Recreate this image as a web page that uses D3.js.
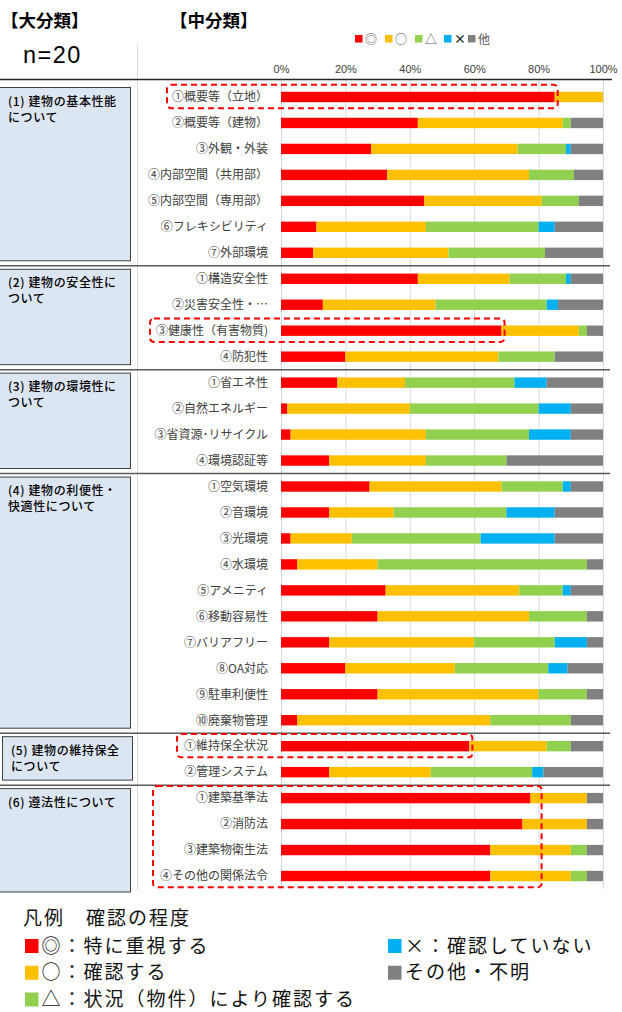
<!DOCTYPE html>
<html>
<head>
<meta charset="utf-8">
<script src="https://cdn.jsdelivr.net/npm/d3@7"></script>
<style>
  body { margin: 0; background: #fff; }
  text { font-family: "Noto Sans CJK JP", "Noto Sans", sans-serif; }
</style>
</head>
<body>
<div id="chart"></div>
<script>
const categories = [
  "①概要等（立地）", "②概要等（建物）", "③外観・外装", "④内部空間（共用部）", "⑤内部空間（専用部）", "⑥フレキシビリティ", "⑦外部環境",
  "①構造安全性", "②災害安全性・…", "③健康性（有害物質)", "④防犯性",
  "①省エネ性", "②自然エネルギー", "③省資源･リサイクル", "④環境認証等",
  "①空気環境", "②音環境", "③光環境", "④水環境", "⑤アメニティ", "⑥移動容易性", "⑦バリアフリー", "⑧OA対応", "⑨駐車利便性", "⑩廃棄物管理",
  "①維持保全状況", "②管理システム",
  "①建築基準法", "②消防法", "③建築物衛生法", "④その他の関係法令"
];

const sectionLine1 = ["(1) 建物の基本性能", "(2) 建物の安全性に", "(3) 建物の環境性に", "(4) 建物の利便性・", "(5) 建物の維持保全", "(6) 遵法性について"];
const sectionLine2 = ["について", "ついて", "ついて", "快適性について", "について", ""];
const sectionSizes = [7, 4, 4, 10, 2, 4];

const seriesKeys = ["◎", "○", "△", "×", "他"];
const seriesColors = ["#FF0000", "#FFC000", "#92D050", "#00B0F0", "#808080"];

const red    = [85, 42.5, 28, 33, 44.5, 11, 10,  42.5, 13, 68.5, 20,  17.5, 2, 3, 15,  27.5, 15, 3, 5, 32.5, 30, 15, 20, 30, 5,  58.5, 15,  77.5, 75, 65, 65];
const yellow = [15, 45, 45.5, 44, 36.5, 34, 42,  28.5, 35, 24, 47.5,  21, 38, 42, 30,  41, 20, 19, 25, 41.5, 47, 45, 34, 50, 60,  24, 31.5,  17.5, 20, 25, 25];
const green  = [0, 2.5, 15, 14, 11.5, 35, 30,  17.5, 34.5, 2.5, 17.5,  34, 40, 32, 25,  19, 35, 40, 65, 13.5, 18, 25, 29, 15, 25,  7.5, 31.5,  0, 0, 5, 5];
const blue   = [0, 0, 1.5, 0, 0, 5, 0,  1.5, 3.5, 0, 0,  10, 10, 13, 0,  2.5, 15, 23, 0, 2.5, 0, 10, 6, 0, 0,  0, 3.5,  0, 0, 0, 0];
const gray   = [0, 10, 10, 9, 7.5, 15, 18,  10, 14, 5, 15,  17.5, 10, 10, 30,  10, 15, 15, 5, 10, 5, 5, 11, 5, 10,  10, 18.5,  5, 5, 5, 5];

const ticks = [0, 20, 40, 60, 80, 100];

const legendLeft = ["◎：特に重視する", "○：確認する", "△：状況（物件）により確認する"];
const legendRight = ["×：確認していない", "その他・不明"];

// highlighted rows: [first row, last row, value where box ends, box left x]
const highlights = [[0, 0, 85, 167], [9, 9, 68.5, 150], [25, 25, 58.5, 177], [27, 30, 80, 153]];

const width = 622, height = 1012;

const svg = d3.select("#chart").append("svg")
  .attr("width", width)
  .attr("height", height);

const x = d3.scaleLinear().domain([0, 100]).range([281, 603]);
const y = d3.scaleBand()
  .domain(d3.range(categories.length))
  .range([84, 889])
  .paddingInner(0.6)
  .paddingOuter(0.3);
const step = y.step();
const rowTop = i => y(i) - y.step() * y.paddingInner() / 2;

const table = categories.map((c, i) => ({
  i: i, "◎": red[i], "○": yellow[i], "△": green[i], "×": blue[i], "他": gray[i]
}));
const stack = d3.stack().keys(seriesKeys)(table);

// header
svg.append("text").attr("x", 1).attr("y", 27)
  .attr("font-size", 17.5).attr("font-weight", "bold").text("【大分類】");
svg.append("text").attr("x", 170).attr("y", 27)
  .attr("font-size", 17.5).attr("font-weight", "bold").text("【中分類】");
svg.append("text").attr("x", 23).attr("y", 63)
  .style("font-family", "'Liberation Sans', Arial, sans-serif")
  .style("letter-spacing", "1.5px")
  .attr("font-size", 23.5).text("n=20");

// left divider
svg.append("line").attr("x1", 137.5).attr("x2", 137.5).attr("y1", 45).attr("y2", 890)
  .attr("stroke", "#d9d9d9");

// gridlines
svg.append("g").selectAll("line").data(ticks).join("line")
  .attr("x1", d => x(d) + 0.5).attr("x2", d => x(d) + 0.5)
  .attr("y1", 80).attr("y2", 889)
  .attr("stroke", "#d9d9d9");

// axis labels
const axis = svg.append("g").attr("transform", "translate(0,73)")
  .call(d3.axisTop(x).tickValues(ticks).tickFormat(d => d + "%").tickSize(0).tickPadding(0));
axis.select(".domain").remove();
axis.selectAll("text").attr("fill", "#404040").attr("font-size", 11)
  .style("font-family", "'Liberation Sans', Arial, sans-serif");

// top legend
const topLeg = svg.append("g").selectAll("g").data(seriesKeys).join("g")
  .attr("transform", (d, i) => `translate(${[355, 385, 415, 444, 468][i]},39)`);
topLeg.append("rect").attr("x", 0).attr("y", -4).attr("width", 7.5).attr("height", 7.5)
  .attr("fill", (d, i) => seriesColors[i]);
topLeg.append("text").attr("x", 10).attr("y", 4.5).attr("font-size", 12)
  .attr("fill", d => d === "×" ? "#262626" : "#595959")
  .attr("font-weight", d => d === "×" ? "bold" : "normal")
  .text(d => d);

// bars
svg.append("g").selectAll("g").data(stack).join("g")
  .attr("fill", (d, i) => seriesColors[i])
  .selectAll("rect").data(d => d).join("rect")
  .attr("x", d => x(d[0]))
  .attr("y", d => y(d.data.i))
  .attr("width", d => x(d[1]) - x(d[0]))
  .attr("height", y.bandwidth());

// row labels
svg.append("g").selectAll("text").data(categories).join("text")
  .attr("x", 268)
  .attr("y", (d, i) => y(i) + y.bandwidth() / 2)
  .attr("dy", "0.36em")
  .attr("text-anchor", "end")
  .attr("font-size", 12)
  .attr("fill", "#404040")
  .text(d => d);

// sections
let start = 0;
sectionSizes.forEach((n, s) => {
  const top = rowTop(start);
  const bottom = rowTop(start + n - 1) + step;
  if (s > 0) {
    svg.append("line").attr("x1", 0).attr("x2", 610).attr("y1", top).attr("y2", top)
      .attr("stroke", "#595959").attr("stroke-width", 1.5);
  }
  const bx = s === 4 ? 2 : -1;
  const bw = s === 4 ? 130 : 131;
  const by = top + 3.5;
  const bh = (s === sectionSizes.length - 1 ? bottom + 3 : bottom - 5) - by;
  svg.append("rect").attr("x", bx + 0.5).attr("y", by).attr("width", bw).attr("height", bh)
    .attr("fill", "#DCE6F2").attr("stroke", "#404040").attr("stroke-width", 1);
  const t = svg.append("text").attr("font-size", 12).attr("fill", "#000")
    .attr("font-weight", 500)
    .style("letter-spacing", "0.6px");
  t.append("tspan").attr("x", bx + 9).attr("y", by + 18).text(sectionLine1[s]);
  t.append("tspan").attr("x", bx + 9).attr("y", by + 34).text(sectionLine2[s]);
  start += n;
});

// top rule
svg.append("line").attr("x1", 0).attr("x2", 612).attr("y1", 79.5).attr("y2", 79.5)
  .attr("stroke", "#262626").attr("stroke-width", 1.5);

// red dashed highlight boxes
svg.append("g").selectAll("rect").data(highlights).join("rect")
  .attr("x", d => d[3])
  .attr("y", d => y(d[0]) - 7)
  .attr("width", d => x(d[2]) + 3 - d[3])
  .attr("height", d => y(d[1]) + y.bandwidth() + 6 - (y(d[0]) - 7))
  .attr("rx", 4)
  .attr("fill", "none")
  .attr("stroke", "#FF0000")
  .attr("stroke-width", 2)
  .attr("stroke-dasharray", "6,4");

// bottom legend
const legFont = 19, legSpacing = "2px", legStep = 26.75;
svg.append("text").attr("x", 23).attr("y", 925).attr("font-size", legFont).attr("fill", "#111")
  .style("letter-spacing", legSpacing)
  .text("凡例　確認の程度");
const legL = svg.append("g").selectAll("g").data(legendLeft).join("g")
  .attr("transform", (d, i) => `translate(25,${946 + i * legStep})`);
legL.append("rect").attr("x", 0).attr("y", -7).attr("width", 13.5).attr("height", 14)
  .attr("fill", (d, i) => seriesColors[i]);
legL.append("text").attr("x", 16.5).attr("y", 6.5).attr("font-size", legFont).attr("fill", "#111")
  .style("letter-spacing", legSpacing)
  .text(d => d);
const legR = svg.append("g").selectAll("g").data(legendRight).join("g")
  .attr("transform", (d, i) => `translate(388,${946 + i * legStep})`);
legR.append("rect").attr("x", 0).attr("y", -7).attr("width", 13.5).attr("height", 14)
  .attr("fill", (d, i) => seriesColors[i + 3]);
legR.append("text").attr("x", 17).attr("y", 6.5).attr("font-size", legFont).attr("fill", "#111")
  .style("letter-spacing", legSpacing)
  .text(d => d);
</script>
</body>
</html>
